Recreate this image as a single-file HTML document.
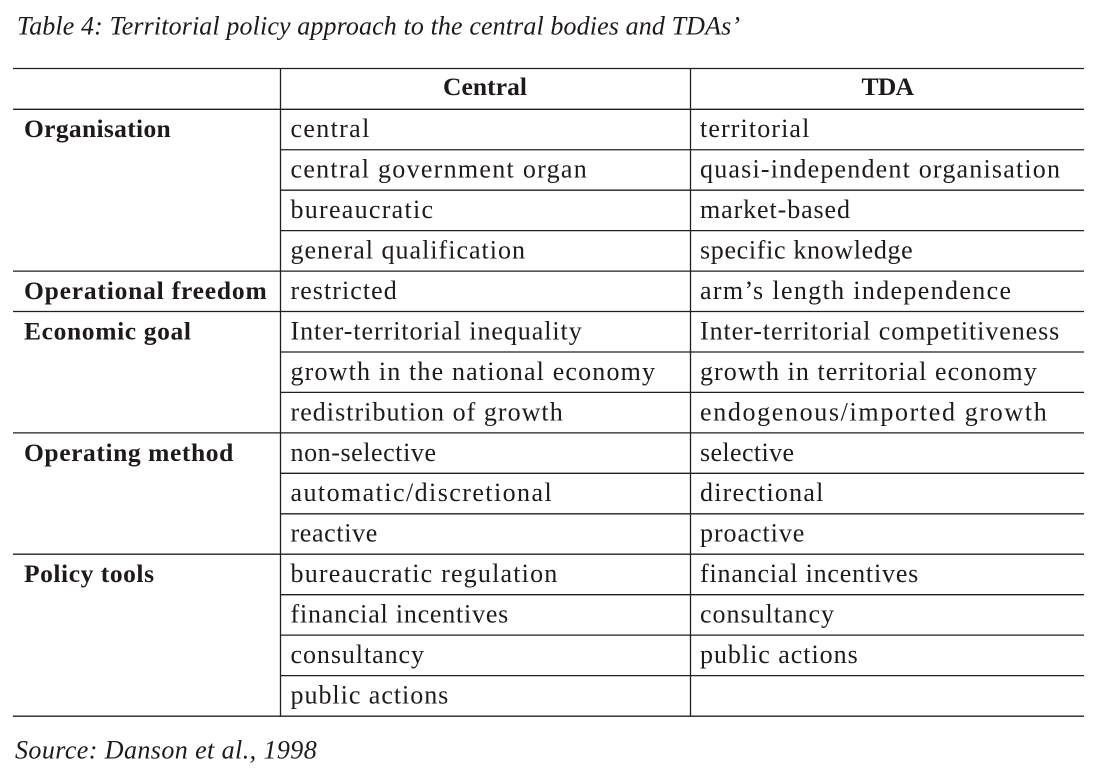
<!DOCTYPE html>
<html>
<head>
<meta charset="utf-8">
<style>
  html,body{margin:0;padding:0;background:#fff;}
  svg{display:block;}
  text{font-family:"Liberation Serif",serif;fill:#1e1a1b;}
  .b{font-size:26px;}
  .h{font-size:25.5px;font-weight:bold;}
  .t{font-size:26px;font-style:italic;}
</style>
</head>
<body>
<svg width="1099" height="779" viewBox="0 0 1099 779" xmlns="http://www.w3.org/2000/svg">
  <!-- title -->
  <text class="t" x="17" y="34.5" textLength="723" lengthAdjust="spacing">Table 4: Territorial policy approach to the central bodies and TDAs’</text>

  <g stroke="#231f20" stroke-width="1.3" fill="none">
    <line x1="13" y1="68.5" x2="1084" y2="68.5"/>
    <line x1="13" y1="109.3" x2="1084" y2="109.3"/>
    <line x1="13" y1="271.1" x2="1084" y2="271.1"/>
    <line x1="13" y1="311.5" x2="1084" y2="311.5"/>
    <line x1="13" y1="432.9" x2="1084" y2="432.9"/>
    <line x1="13" y1="554.2" x2="1084" y2="554.2"/>
    <line x1="13" y1="716.2" x2="1084" y2="716.2"/>
    <line x1="280" y1="149.75" x2="1084" y2="149.75"/>
    <line x1="280" y1="190.2" x2="1084" y2="190.2"/>
    <line x1="280" y1="230.65" x2="1084" y2="230.65"/>
    <line x1="280" y1="352" x2="1084" y2="352"/>
    <line x1="280" y1="392.4" x2="1084" y2="392.4"/>
    <line x1="280" y1="473.3" x2="1084" y2="473.3"/>
    <line x1="280" y1="513.8" x2="1084" y2="513.8"/>
    <line x1="280" y1="594.7" x2="1084" y2="594.7"/>
    <line x1="280" y1="635.1" x2="1084" y2="635.1"/>
    <line x1="280" y1="675.6" x2="1084" y2="675.6"/>
    <line x1="280.5" y1="68.5" x2="280.5" y2="716.2"/>
    <line x1="690.5" y1="68.5" x2="690.5" y2="716.2"/>
  </g>

  <!-- header -->
  <text class="h" x="443" y="95" textLength="84" lengthAdjust="spacing">Central</text>
  <text class="h" x="861.5" y="95" textLength="52.5" lengthAdjust="spacing">TDA</text>

  <!-- group labels -->
  <text class="h" x="24" y="137.2" textLength="146.7" lengthAdjust="spacing">Organisation</text>
  <text class="h" x="24" y="299" textLength="242.7" lengthAdjust="spacing">Operational freedom</text>
  <text class="h" x="24" y="339.4" textLength="167" lengthAdjust="spacing">Economic goal</text>
  <text class="h" x="24" y="460.8" textLength="209.3" lengthAdjust="spacing">Operating method</text>
  <text class="h" x="24" y="582.1" textLength="130" lengthAdjust="spacing">Policy tools</text>

  <!-- Central column -->
  <text class="b" x="290.5" y="137.2" textLength="78.8" lengthAdjust="spacing">central</text>
  <text class="b" x="290.5" y="177.6" textLength="296.2" lengthAdjust="spacing">central government organ</text>
  <text class="b" x="290.5" y="218.1" textLength="142.5" lengthAdjust="spacing">bureaucratic</text>
  <text class="b" x="290.5" y="258.5" textLength="234.5" lengthAdjust="spacing">general qualification</text>
  <text class="b" x="290.5" y="299" textLength="106.2" lengthAdjust="spacing">restricted</text>
  <text class="b" x="290.5" y="339.4" textLength="291.2" lengthAdjust="spacing">Inter-territorial inequality</text>
  <text class="b" x="290.5" y="379.9" textLength="364.5" lengthAdjust="spacing">growth in the national economy</text>
  <text class="b" x="290.5" y="420.3" textLength="272.2" lengthAdjust="spacing">redistribution of growth</text>
  <text class="b" x="290.5" y="460.8" textLength="145.5" lengthAdjust="spacing">non-selective</text>
  <text class="b" x="290.5" y="501.2" textLength="261.2" lengthAdjust="spacing">automatic/discretional</text>
  <text class="b" x="290.5" y="541.7" textLength="86.8" lengthAdjust="spacing">reactive</text>
  <text class="b" x="290.5" y="582.1" textLength="266.8" lengthAdjust="spacing">bureaucratic regulation</text>
  <text class="b" x="290.5" y="622.6" textLength="217.8" lengthAdjust="spacing">financial incentives</text>
  <text class="b" x="290.5" y="663" textLength="133.5" lengthAdjust="spacing">consultancy</text>
  <text class="b" x="290.5" y="703.5" textLength="157.8" lengthAdjust="spacing">public actions</text>

  <!-- TDA column -->
  <text class="b" x="700" y="137.2" textLength="109.3" lengthAdjust="spacing">territorial</text>
  <text class="b" x="700" y="177.6" textLength="360" lengthAdjust="spacing">quasi-independent organisation</text>
  <text class="b" x="700" y="218.1" textLength="150" lengthAdjust="spacing">market-based</text>
  <text class="b" x="700" y="258.5" textLength="212.7" lengthAdjust="spacing">specific knowledge</text>
  <text class="b" x="700" y="299" textLength="311" lengthAdjust="spacing">arm’s length independence</text>
  <text class="b" x="700" y="339.4" textLength="359.3" lengthAdjust="spacing">Inter-territorial competitiveness</text>
  <text class="b" x="700" y="379.9" textLength="336.7" lengthAdjust="spacing">growth in territorial economy</text>
  <text class="b" x="700" y="420.3" textLength="346.7" lengthAdjust="spacing">endogenous/imported growth</text>
  <text class="b" x="700" y="460.8" textLength="94" lengthAdjust="spacing">selective</text>
  <text class="b" x="700" y="501.2" textLength="123.3" lengthAdjust="spacing">directional</text>
  <text class="b" x="700" y="541.7" textLength="104.3" lengthAdjust="spacing">proactive</text>
  <text class="b" x="700" y="582.1" textLength="218.3" lengthAdjust="spacing">financial incentives</text>
  <text class="b" x="700" y="622.6" textLength="134" lengthAdjust="spacing">consultancy</text>
  <text class="b" x="700" y="663" textLength="157.7" lengthAdjust="spacing">public actions</text>

  <!-- source -->
  <text class="t" x="15" y="758.3" textLength="301.7" lengthAdjust="spacing">Source: Danson et al., 1998</text>
</svg>
</body>
</html>
